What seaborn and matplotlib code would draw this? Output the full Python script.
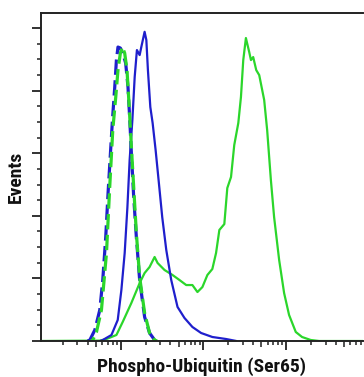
import numpy as np
import matplotlib
matplotlib.use('Agg')
import matplotlib.pyplot as plt
import matplotlib.ticker as mticker
import seaborn as sns

# log10 fluorescence intensity and event counts
pos_log = [2.00, 2.75, 2.828, 2.948, 3.024, 3.129, 3.229, 3.289, 3.349, 3.410, 3.446, 3.530,
           3.627, 3.711, 3.792, 3.867, 3.928, 3.988, 4.048, 4.108, 4.153, 4.193, 4.253,
           4.289, 4.334, 4.373, 4.422, 4.454, 4.482, 4.514, 4.554, 4.575, 4.602, 4.639,
           4.675, 4.735, 4.771, 4.816, 4.855, 4.916, 4.976, 5.036, 5.117, 5.193, 5.298,
           5.40, 5.95]
pos_cnt = [0, 0.3, 1.6, 4.8, 15.2, 30.4, 46.3, 54.3, 59.1, 67.1, 62.3, 56.7,
           52.7, 48.7, 44.7, 44.7, 39.1, 43.1, 52.7, 57.5, 70.3, 88.7, 93.4,
           122.2, 131.0, 156.5, 174.1, 194.9, 224.4, 242.0, 230.8, 224.4, 226.8, 216.4,
           212.4, 192.5, 168.5, 128.6, 99.0, 64.7, 38.3, 20.8, 7.2, 3.2, 0.8,
           0, 0]

ctrl_log = [2.75, 2.783, 2.888, 2.964, 3.008, 3.048, 3.081, 3.108, 3.141, 3.169, 3.196,
            3.229, 3.249, 3.289, 3.310, 3.329, 3.358, 3.386, 3.422, 3.458, 3.502,
            3.551, 3.611, 3.687, 3.771, 3.867, 3.972, 4.108, 4.273, 4.398]
ctrl_cnt = [0, 0.8, 4.8, 16.8, 40.7, 70.3, 107.0, 144.6, 176.5, 210.9, 232.4,
            228.4, 234.8, 247.0, 240.4, 216.4, 186.9, 174.1, 152.6, 128.6, 99.0,
            72.7, 48.7, 27.2, 18.4, 11.2, 6.4, 3.2, 1.6, 0]

iso_ctrl_log = [2.60, 2.627, 2.687, 2.747, 2.783, 2.819, 2.847, 2.876, 2.900, 2.928, 2.948,
                2.967, 2.996, 3.024, 3.060, 3.088, 3.108, 3.129, 3.157, 3.189, 3.229,
                3.289, 3.349, 3.410, 3.44]
iso_ctrl_cnt = [0, 0.8, 8.8, 24.8, 48.7, 83.1, 118.2, 150.2, 176.5, 202.9, 224.4,
                234.8, 234.0, 230.0, 222.0, 202.9, 178.9, 150.2, 115.0, 83.1, 48.7,
                19.2, 6.4, 0.8, 0]

iso_pos_log = [2.64, 2.663, 2.707, 2.767, 2.828, 2.867, 2.904, 2.940, 2.967, 2.996, 3.020,
               3.048, 3.076, 3.100, 3.129, 3.157, 3.189, 3.229, 3.289, 3.349, 3.410, 3.44]
iso_pos_cnt = [0, 0.8, 7.2, 24.8, 70.3, 123.0, 168.5, 194.9, 216.4, 230.0, 234.8,
               230.0, 216.4, 190.1, 155.0, 123.0, 86.3, 51.1, 22.4, 6.4, 0.8, 0]

blue = '#1f1fcc'
green = '#2bd62b'

sns.set_style('ticks')
fig = plt.figure(figsize=(3.64, 3.77), dpi=100)
ax = fig.add_axes([40.5 / 364, 36 / 377, (363 - 40.5) / 364, (341 - 13) / 377])

sns.lineplot(x=10 ** np.array(pos_log), y=pos_cnt, ax=ax, color=green, lw=1.6,
             estimator=None, sort=False)
sns.lineplot(x=10 ** np.array(ctrl_log), y=ctrl_cnt, ax=ax, color=blue, lw=1.6,
             estimator=None, sort=False)
sns.lineplot(x=10 ** np.array(iso_ctrl_log), y=iso_ctrl_cnt, ax=ax, color=blue, lw=2.3,
             linestyle=(0, (4.8, 1.7)), estimator=None, sort=False)
sns.lineplot(x=10 ** np.array(iso_pos_log), y=iso_pos_cnt, ax=ax, color=green, lw=2.3,
             linestyle=(3.2, (4.8, 1.7)), estimator=None, sort=False)

ax.set_xscale('log')
ax.set_xlim(10 ** 2.03, 10 ** 5.93)
ax.set_ylim(0, 262)

ax.xaxis.set_major_locator(mticker.FixedLocator([1e3, 1e4, 1e5]))
ax.xaxis.set_minor_locator(mticker.LogLocator(base=10, subs=np.arange(2, 10), numticks=20))
ax.yaxis.set_major_locator(mticker.MultipleLocator(50))
ax.yaxis.set_minor_locator(mticker.MultipleLocator(12.5))
ax.xaxis.set_major_formatter(mticker.NullFormatter())
ax.xaxis.set_minor_formatter(mticker.NullFormatter())
ax.yaxis.set_major_formatter(mticker.NullFormatter())

ax.tick_params(which='major', direction='out', length=6.5, width=1.3, color='#222222')
ax.tick_params(which='minor', direction='out', length=3, width=1.1, color='#222222')

# the 5x minor ticks are drawn a bit longer
minor_locs = ax.xaxis.get_minorticklocs()
for loc, t in zip(minor_locs, ax.xaxis.get_minor_ticks(len(minor_locs))):
    m = loc / 10 ** np.floor(np.log10(loc) + 1e-9)
    if abs(m - 5) < 0.01:
        t.tick1line.set_markersize(4.5)

for side in ['left', 'bottom', 'top']:
    ax.spines[side].set_linewidth(1.4)
    ax.spines[side].set_color('#222222')
ax.spines['right'].set_visible(False)

lab_font = ['Roboto Condensed', 'DejaVu Sans']
ax.set_xlabel('Phospho-Ubiquitin (Ser65)', fontsize=14, fontweight='bold',
              family=lab_font, color='#111111')
ax.xaxis.set_label_coords(0.5, -0.05)
ax.xaxis.label.set_va('top')
ax.set_ylabel('Events', fontsize=14, fontweight='bold', family=lab_font, color='#111111')
ax.yaxis.set_label_coords(-0.076, 0.5)
ax.yaxis.label.set_va('center')

fig.savefig('out.png', dpi=100)
